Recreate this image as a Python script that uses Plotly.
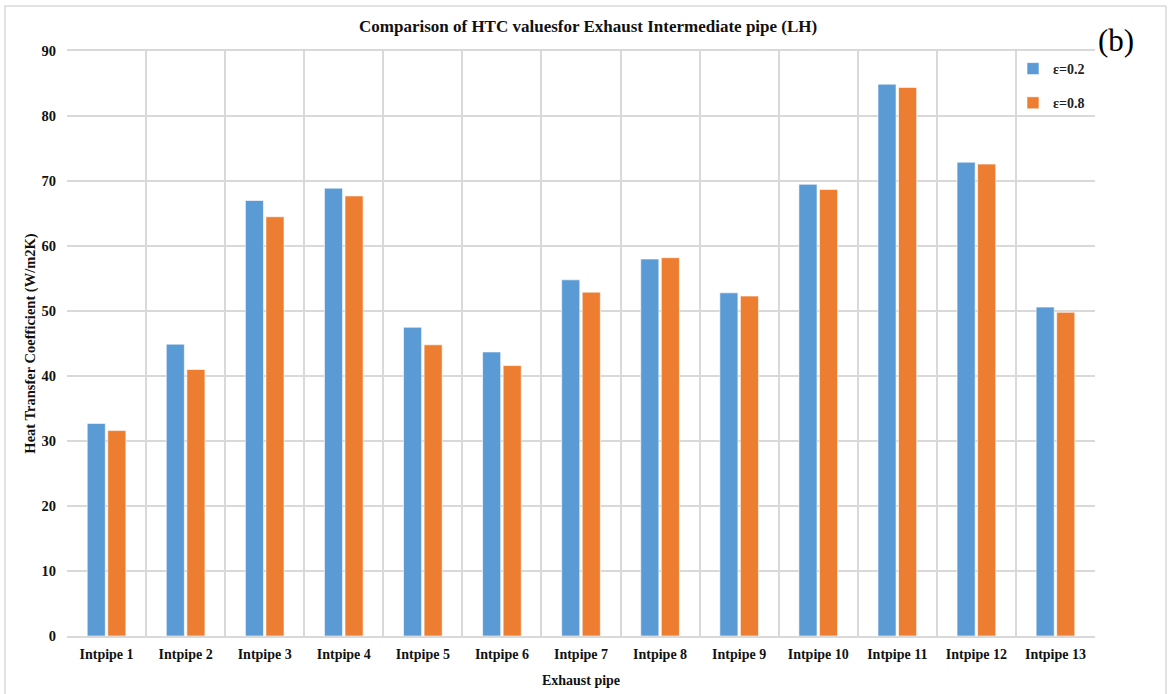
import plotly.graph_objects as go

# HTC values per intermediate pipe section
categories = [f"Intpipe {i}" for i in range(1, 14)]
htc_eps_02 = [32.7, 44.9, 67.0, 68.9, 47.5, 43.7, 54.8, 58.0, 52.8, 69.5, 84.9, 72.9, 50.6]
htc_eps_08 = [31.6, 41.0, 64.5, 67.7, 44.8, 41.6, 52.9, 58.2, 52.3, 68.7, 84.4, 72.6, 49.8]
series_names = ["ε=0.2", "ε=0.8"]
y_ticks = [0, 10, 20, 30, 40, 50, 60, 70, 80, 90]

FONT = "Liberation Serif, Times New Roman, serif"
BLUE = "#5B9BD5"
ORANGE = "#ED7D31"
GRID = "#D9D9D9"

W, H = 1170, 694
L, R, T, B = 67, 75, 51, 58
pw, ph = W - L - R, H - T - B


def px_x(x):
    return (x - L) / pw


def px_y(y):
    return (H - B - y) / ph


fig = go.Figure()
for name, vals, col, grp in [(series_names[0], htc_eps_02, BLUE, "a"),
                             (series_names[1], htc_eps_08, ORANGE, "b")]:
    fig.add_trace(go.Bar(
        x=categories, y=vals, name=name, legendgroup=grp,
        marker=dict(color=col, line=dict(color="rgba(255,255,255,0.6)", width=1)),
    ))

fig.update_layout(
    width=W, height=H,
    margin=dict(l=L, r=R, t=T, b=B, autoexpand=False),
    paper_bgcolor="white", plot_bgcolor="white",
    font=dict(family=FONT, color="#000000"),
    barmode="group", bargap=0.48, bargroupgap=0.12,
    showlegend=True,
    legend=dict(
        x=px_x(1013), y=px_y(53), xanchor="left", yanchor="top",
        font=dict(family=FONT, size=14, color="#222222", weight="bold"),
        tracegroupgap=13, bgcolor="rgba(0,0,0,0)",
        itemwidth=30,
    ),
    xaxis=dict(
        type="category", tickson="boundaries", ticks="", automargin=False,
        showgrid=True, gridcolor=GRID, gridwidth=1.5,
        showline=True, linecolor=GRID, linewidth=1.5, mirror=True,
        tickfont=dict(family=FONT, size=14, color="#111111", weight="bold"),
        ticklabelstandoff=4,
        title=dict(text="Exhaust pipe", standoff=15,
                   font=dict(family=FONT, size=14, color="#111111", weight="bold")),
    ),
    yaxis=dict(
        range=[0, 90], tickvals=y_ticks, showgrid=True, gridcolor=GRID, gridwidth=1.5,
        zeroline=False, showline=False, ticks="", automargin=False,
        tickfont=dict(family=FONT, size=14.5, color="#111111", weight="bold"),
        ticklabelstandoff=10,
        title=dict(text="Heat Transfer Coefficient (W/m2K)", standoff=2,
                   font=dict(family=FONT, size=14.5, color="#111111", weight="bold")),
    ),
    annotations=[
        dict(text="Comparison of HTC valuesfor Exhaust Intermediate pipe (LH)",
             xref="paper", yref="paper", x=px_x(588), y=px_y(27),
             xanchor="center", yanchor="middle", showarrow=False,
             font=dict(family=FONT, size=17, color="#111111", weight="bold")),
        dict(text="(b)", xref="paper", yref="paper", x=px_x(1096), y=px_y(40),
             xanchor="left", yanchor="middle", showarrow=False,
             font=dict(family=FONT, size=31, color="#000000")),
    ],
    shapes=[
        dict(type="rect", xref="paper", yref="paper",
             x0=px_x(5), x1=px_x(1166), y0=px_y(705), y1=px_y(6),
             line=dict(color=GRID, width=1.5), fillcolor="rgba(0,0,0,0)", layer="below"),
    ],
)

fig.write_html("out.html")
